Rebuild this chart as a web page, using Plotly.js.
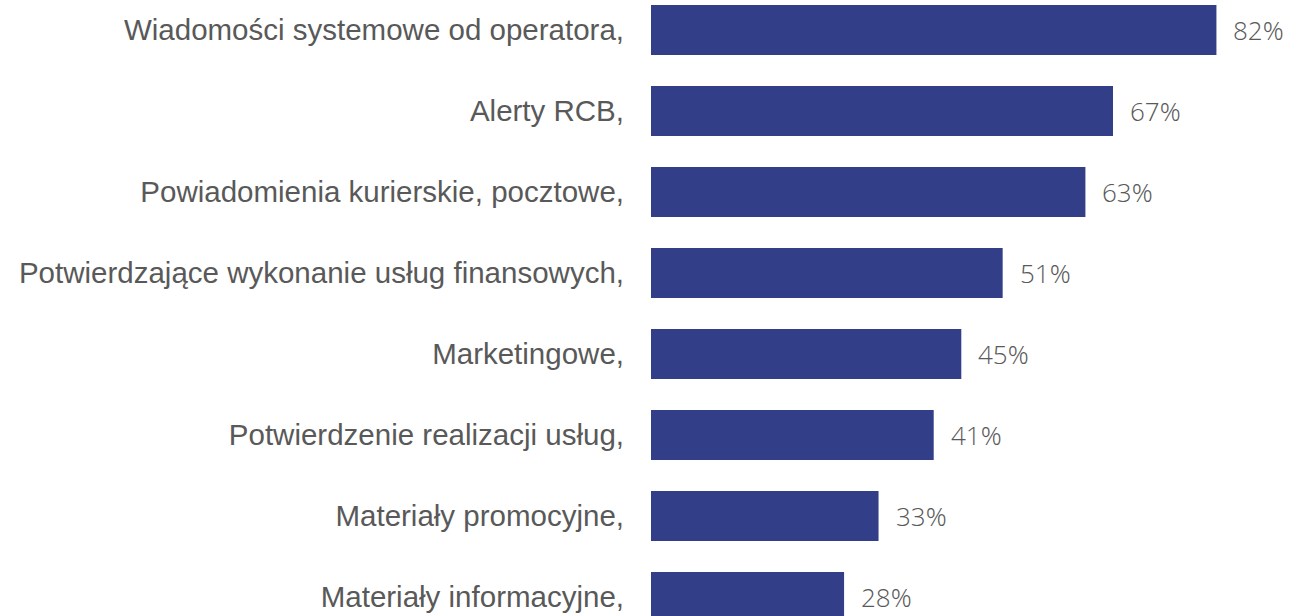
<!DOCTYPE html>
<html><head><meta charset="utf-8">
<script src="https://cdn.plot.ly/plotly-3.0.1.min.js"></script>
<style>html,body{margin:0;padding:0;background:#fff;}#chart{width:1304px;height:616px;}</style>
</head><body><div id="chart"></div>
<script>
const categories = [
  "Wiadomości systemowe od operatora,",
  "Alerty RCB,",
  "Powiadomienia kurierskie, pocztowe,",
  "Potwierdzające wykonanie usług finansowych,",
  "Marketingowe,",
  "Potwierdzenie realizacji usług,",
  "Materiały promocyjne,",
  "Materiały informacyjne,"
];
const values = [82, 67, 63, 51, 45, 41, 33, 28];
const valueLabels = values.map(v => v + "%");

const trace = {
  type: "bar", orientation: "h",
  x: values, y: categories,
  marker: {color: "#323f88", line: {width: 0}},
  hoverinfo: "none"
};
const annotations = values.map((v, i) => ({
  x: v, y: categories[i], xref: "x", yref: "y",
  text: valueLabels[i], showarrow: false, xanchor: "left", yanchor: "middle",
  xshift: 15,
  font: {family: "Open Sans Light, Open Sans", size: 26, color: "#595959", weight: 300}
}));
const layout = {
  width: 1304, height: 616,
  margin: {l: 651, r: 0, t: 0, b: 0},
  paper_bgcolor: "#fff", plot_bgcolor: "#fff",
  bargap: 0.383,
  showlegend: false,
  xaxis: {range: [0, 94.7], visible: false, fixedrange: true},
  yaxis: {
    type: "category", range: [7.235, -0.37],
    showgrid: false, zeroline: false, showline: false, ticks: "",
    ticklabelstandoff: 26,
    tickfont: {family: "Liberation Sans, Arial", size: 29.5, color: "#595959"}
  },
  annotations: annotations
};
Plotly.newPlot("chart", [trace], layout, {staticPlot: true});
</script></body></html>
